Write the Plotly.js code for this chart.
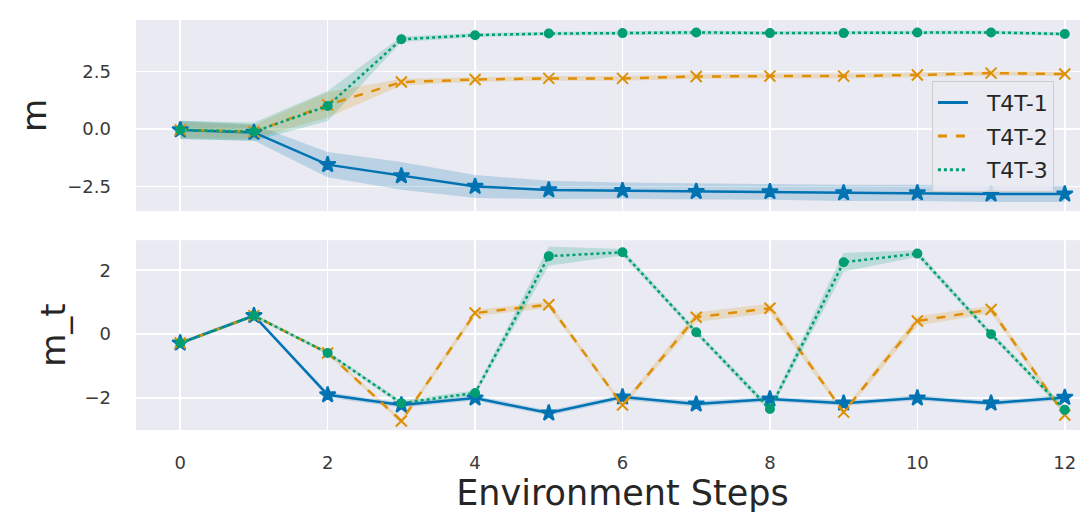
<!DOCTYPE html>
<html><head><meta charset="utf-8">
<script src="https://cdn.plot.ly/plotly-3.0.1.min.js"></script>
<style>html,body{margin:0;padding:0;overflow:hidden;background:#fff;width:1080px;height:512px}</style>
</head><body><div id="chart"></div>
<script>
const steps = [0,1,2,3,4,5,6,7,8,9,10,11,12];
const seriesNames = ['T4T-1','T4T-2','T4T-3'];
// top panel: m (mean and band half-width)
const m1 = [-0.04,-0.15,-1.55,-2.04,-2.5,-2.65,-2.68,-2.72,-2.73,-2.78,-2.78,-2.83,-2.83];
const m1err = [0.4,0.35,0.55,0.6,0.5,0.4,0.35,0.35,0.35,0.35,0.35,0.35,0.35];
const m2 = [-0.04,-0.12,1.05,2.04,2.15,2.2,2.2,2.28,2.3,2.3,2.35,2.43,2.39];
const m2err = [0.35,0.3,0.55,0.15,0.1,0.1,0.1,0.1,0.1,0.1,0.1,0.1,0.1];
const m3 = [-0.04,-0.12,1.0,3.9,4.08,4.15,4.17,4.2,4.17,4.17,4.2,4.2,4.13];
const m3err = [0.4,0.4,0.65,0.12,0.08,0.08,0.08,0.08,0.08,0.08,0.08,0.08,0.08];
// bottom panel: m_t
const mt1 = [-0.28,0.58,-1.9,-2.22,-2.0,-2.47,-1.97,-2.19,-2.03,-2.16,-2.0,-2.16,-1.98];
const mt1err = [0.06,0.06,0.08,0.08,0.08,0.08,0.08,0.08,0.08,0.08,0.08,0.08,0.08];
const mt2 = [-0.28,0.58,-0.59,-2.72,0.66,0.92,-2.22,0.53,0.81,-2.44,0.41,0.77,-2.53];
const mt2err = [0.05,0.05,0.05,0.08,0.1,0.1,0.08,0.15,0.15,0.08,0.15,0.12,0.08];
const mt3 = [-0.28,0.58,-0.59,-2.16,-1.84,2.44,2.56,0.06,-2.34,2.25,2.52,0.0,-2.37];
const mt3err = [0.05,0.05,0.05,0.08,0.08,0.3,0.1,0.08,0.1,0.3,0.1,0.08,0.1];

const colors = ['#0173b2','#de8f05','#029e73'];
const fills = ['rgba(1,115,178,0.2)','rgba(222,143,5,0.2)','rgba(2,158,115,0.2)'];
const dashes = ['solid','dash','dot'];
const symbols = ['star','x-thin','circle'];
const msizes = [12,11,8];

const traces = [];
function band(mean, err, i, xa, ya){
  const xs = steps.concat(steps.slice().reverse());
  const up = mean.map((v,k)=>v+err[k]);
  const lo = mean.map((v,k)=>v-err[k]).reverse();
  traces.push({x:xs, y:up.concat(lo), xaxis:xa, yaxis:ya, type:'scatter', mode:'lines',
    fill:'toself', fillcolor:fills[i], line:{width:0}, hoverinfo:'skip', showlegend:false});
}
function line(mean, i, xa, ya){
  traces.push({x:steps, y:mean, xaxis:xa, yaxis:ya, type:'scatter', mode:'lines+markers',
    line:{color:colors[i], width:2.5, dash:dashes[i]},
    marker:{symbol:symbols[i], size:msizes[i], color:colors[i], line:{color:colors[i], width:2}},
    showlegend:false});
}
const topM = [m1,m2,m3], topE=[m1err,m2err,m3err];
const botM = [mt1,mt2,mt3], botE=[mt1err,mt2err,mt3err];
for(let i=0;i<3;i++) band(topM[i], topE[i], i, 'x', 'y');
for(let i=0;i<3;i++) line(topM[i], i, 'x', 'y');
for(let i=0;i<3;i++) band(botM[i], botE[i], i, 'x2', 'y2');
for(let i=0;i<3;i++) line(botM[i], i, 'x2', 'y2');
for(let i=0;i<3;i++){
  traces.push({x:[null], y:[null], xaxis:'x', yaxis:'y', type:'scatter', mode:'lines',
    name:'\u00a0\u00a0' + seriesNames[i], legendgroup:'g'+i,
    line:{color:colors[i], width:3, dash:dashes[i]}});
}

const FONT = 'DejaVu Sans, Liberation Sans, Arial, sans-serif';
const tickFont = {family:FONT, size:18, color:'#3a3a3a'};
const axisCommon = {showgrid:true, gridcolor:'#ffffff', gridwidth:1.5, zeroline:false,
  showline:false, ticks:'', tickfont:tickFont};
const layout = {
  width:1130, height:532,
  margin:{l:136, r:21, t:20, b:102},
  paper_bgcolor:'#ffffff', plot_bgcolor:'#eaeaf2',
  font:{family:FONT, color:'#262626'},
  xaxis:Object.assign({}, axisCommon, {range:[-0.6,12.6], domain:[0,1], anchor:'y',
    tickvals:[0,2,4,6,8,10,12], showticklabels:false}),
  yaxis:Object.assign({}, axisCommon, {range:[-3.57,4.74], domain:[0.534,1], anchor:'x',
    tickvals:[-2.5,0,2.5], ticktext:['\u22122.5','0.0','2.5'], ticklabelstandoff:24,
    title:{text:'m', font:{size:34, color:'#262626'}, standoff:10}}),
  xaxis2:Object.assign({}, axisCommon, {range:[-0.6,12.6], domain:[0,1], anchor:'y2',
    tickvals:[0,2,4,6,8,10,12], ticklabelstandoff:20,
    title:{text:'Environment Steps', font:{size:35, color:'#262626'}, standoff:6}}),
  yaxis2:Object.assign({}, axisCommon, {range:[-3.0,2.94], domain:[0,0.463], anchor:'x2',
    tickvals:[-2,0,2], ticktext:['\u22122','0','2'], ticklabelstandoff:24,
    title:{text:'m_t', font:{size:34, color:'#262626'}, standoff:8}}),
  legend:{x:0.818, y:0.852, xanchor:'left', yanchor:'top',
    bgcolor:'rgba(234,234,242,0.85)', bordercolor:'#cccccc', borderwidth:1,
    font:{size:22, color:'#262626'}, tracegroupgap:2, traceorder:'grouped'},
  showlegend:true
};
Plotly.newPlot('chart', traces, layout, {displayModeBar:false, staticPlot:true});
</script></body></html>
